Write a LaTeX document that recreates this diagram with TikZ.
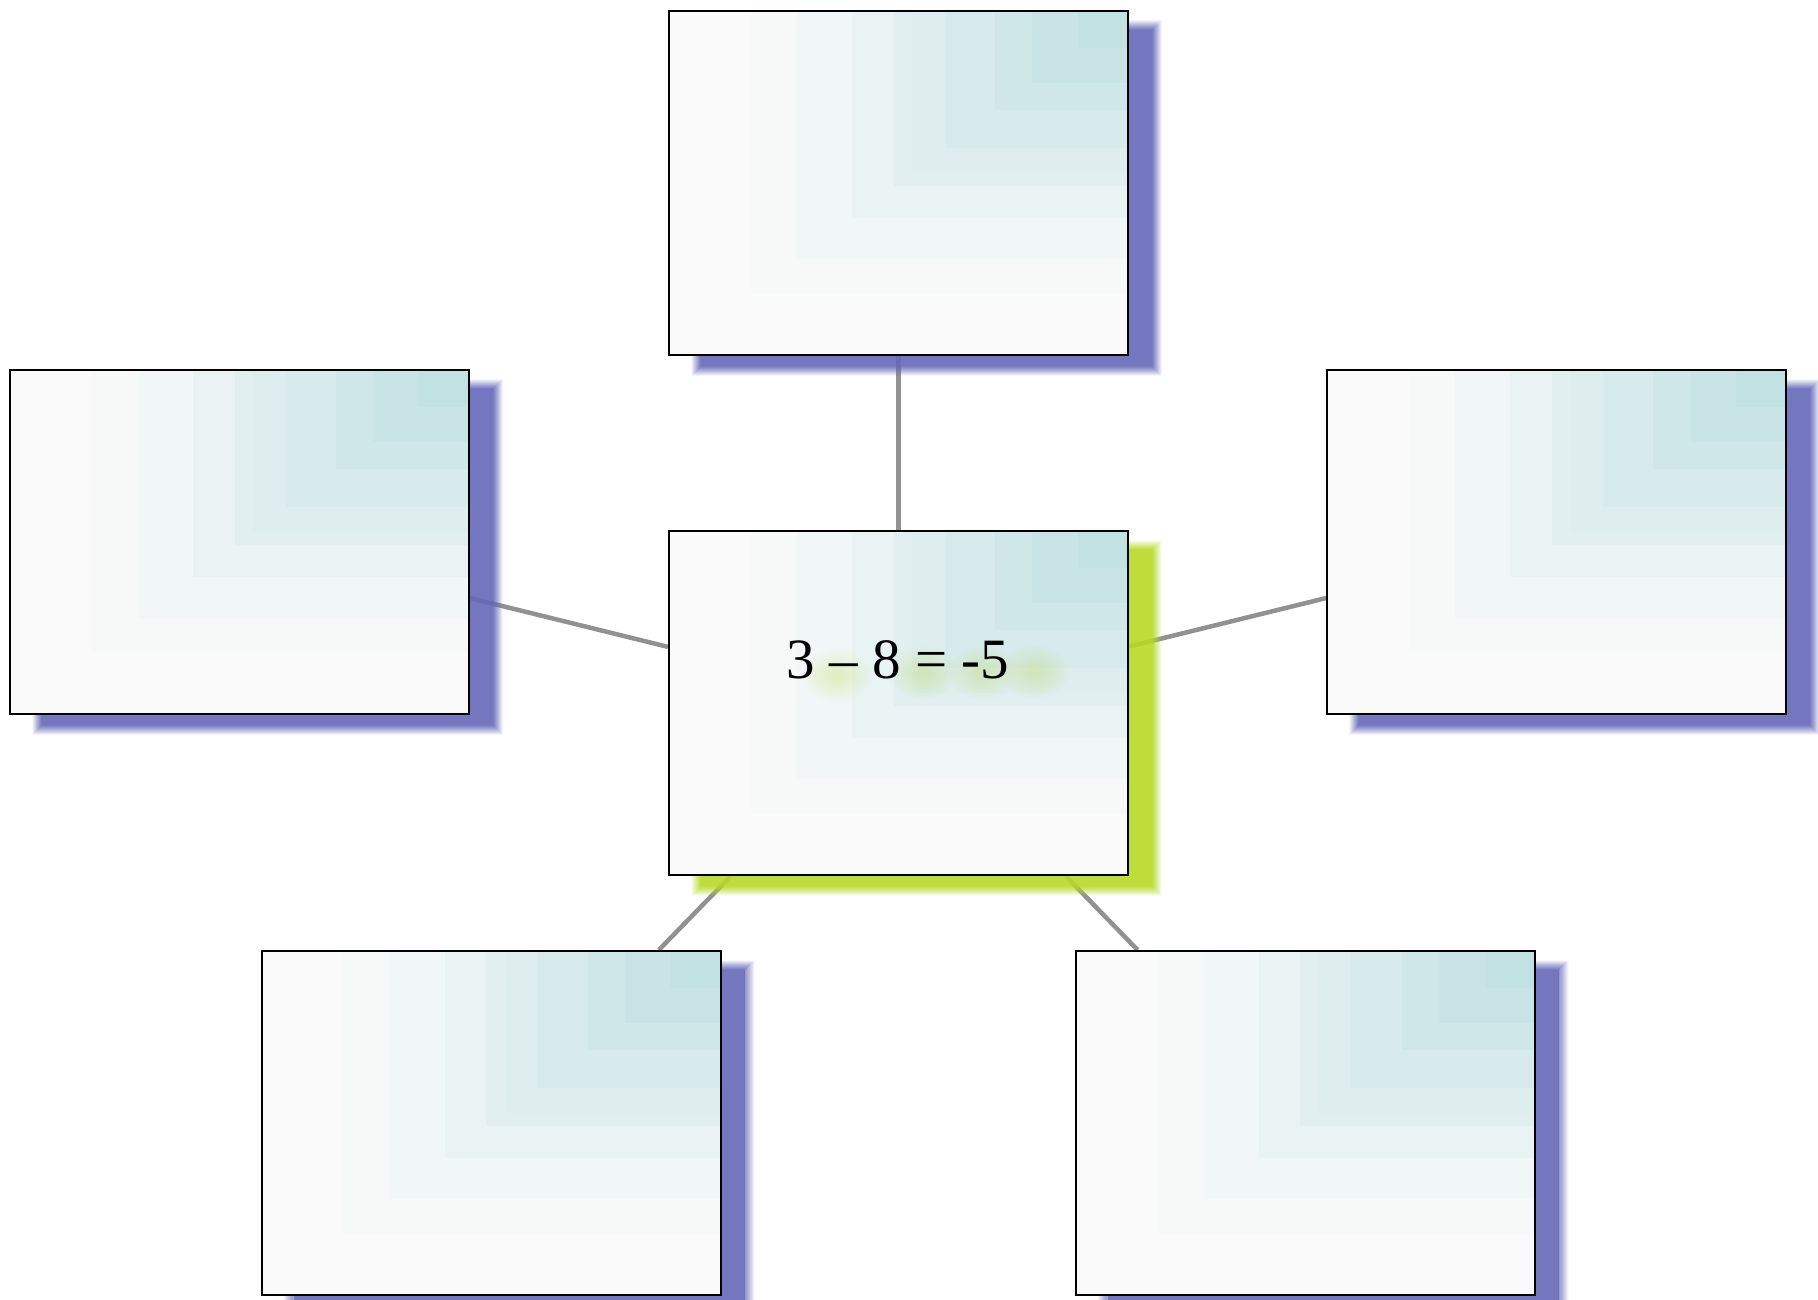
\documentclass[tikz,border=0pt]{standalone}
\usepackage{fontspec}
\setmainfont{Liberation Serif}
\usetikzlibrary{calc}
\pgfdeclarelayer{bg}
\pgfsetlayers{bg,main}
\definecolor{tealc}{RGB}{194,225,227}
\definecolor{basec}{RGB}{250,250,250}
\definecolor{purpsh}{RGB}{101,105,185}
\definecolor{greensh}{RGB}{183,218,38}
\definecolor{linkc}{RGB}{145,145,145}
\tikzset{
  card/.style={draw=black, line width=2pt, minimum width=459pt, minimum height=344pt, inner sep=0pt},
  link/.style={draw=linkc, line width=4.5pt},
  eqtext/.style={font=\fontsize{57}{60}\selectfont, inner sep=0pt}
}
\newcommand\carddeco[2]{%
  \foreach \dd in {-5,...,4}{%
    \pgfmathsetmacro\ringop{0.9*(\dd+5.5)/10}%
    \fill[#2, opacity=\ringop, even odd rule]
      ([shift={(28+\dd,15+\dd)}]#1.north west) rectangle ([shift={(28-\dd,15-\dd)}]#1.south east)
      ([shift={(29+\dd,16+\dd)}]#1.north west) rectangle ([shift={(27-\dd,14-\dd)}]#1.south east);
  }%
  \fill[#2, opacity=0.9] ([shift={(33,20)}]#1.north west) rectangle ([shift={(23,10)}]#1.south east);
  \fill[basec] (#1.north west) rectangle (#1.south east);
  \foreach \ff/\tmix in {0.82/6,0.72/15,0.60/28,0.51/42,0.47/50,0.40/62,0.29/76,0.21/88,0.11/100}{%
    \fill[tealc!\tmix!basec] (#1.north east) rectangle ($(#1.north east)!\ff!(#1.south west)$);
  }%
}
\newcommand\glowblob[1]{%
  \foreach \rr in {5,8,...,26}{%
    \fill[greensh, opacity=0.03] #1 ellipse ({\rr*1.3} and \rr);
  }%
}
\begin{document}
\begin{tikzpicture}[x=1pt,y=-1pt]
\useasboundingbox (0,0) rectangle (1818,1300);
\node[card] (top) at (898.5,183) {};
\node[card] (ctr) at (898.5,703) {};
\node[card] (lft) at (239.5,542) {};
\node[card] (rgt) at (1556.5,542) {};
\node[card] (bl) at (491,1123) {};
\node[card] (br) at (1305,1123) {};
\node[eqtext] (eq) at (898,660) {3 – 8 = -5};
\begin{pgfonlayer}{bg}
  \fill[white] (0,0) rectangle (1818,1300);
  \draw[link] (ctr) -- (top);
  \draw[link] (ctr) -- (lft);
  \draw[link] (ctr) -- (rgt);
  \draw[link] (ctr) -- (bl);
  \draw[link] (ctr) -- (br);
  \carddeco{top}{purpsh}
  \carddeco{lft}{purpsh}
  \carddeco{rgt}{purpsh}
  \carddeco{bl}{purpsh}
  \carddeco{br}{purpsh}
  \carddeco{ctr}{greensh}
  \glowblob{($(eq.center)+(-61,16)$)}
  \glowblob{($(eq.center)+(26,13)$)}
  \glowblob{($(eq.center)+(85,13)$)}
  \glowblob{($(eq.center)+(137,12)$)}
\end{pgfonlayer}
\end{tikzpicture}
\end{document}
